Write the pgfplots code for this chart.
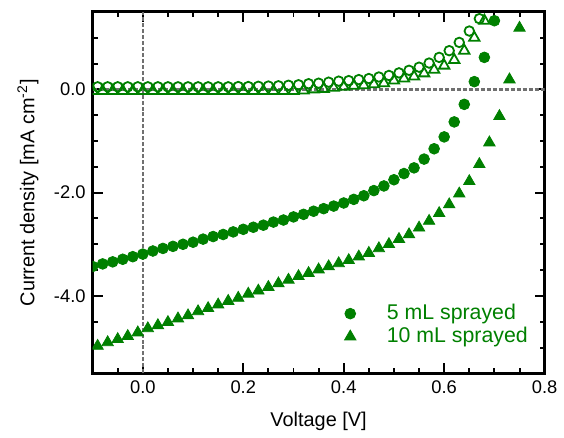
\documentclass[border=0pt]{standalone}
\usepackage{fontspec}
\setmainfont{Liberation Sans}
\usepackage{pgfplots}
\pgfplotsset{compat=1.18}
\definecolor{sprayed}{HTML}{008000}
\definecolor{zeroline}{HTML}{707070}

\begin{document}
\begin{tikzpicture}
\begin{axis}[
    scale only axis, width=227pt, height=181.5pt,
    xmin=-0.1, xmax=0.8, ymin=-5.5, ymax=1.5,
    xtick={0,0.2,0.4,0.6,0.8}, ytick={-4,-2,0},
    minor xtick={-0.05,0.05,0.1,0.15,0.25,0.3,0.35,0.45,0.5,0.55,0.65,0.7,0.75},
    minor ytick={-5,-4.5,-3.5,-3,-2.5,-1.5,-1,-0.5,0.5,1},
    tick align=inside, major tick length=5pt, minor tick length=2.5pt,
    axis line style={line width=1.5pt},
    every tick/.style={black, line width=1pt},
    /pgf/number format/assume math mode=true,
    xticklabel style={/pgf/number format/.cd, fixed, fixed zerofill, precision=1},
    yticklabel style={/pgf/number format/.cd, fixed, fixed zerofill, precision=1},
    tick label style={font=\fontsize{9.2}{11}\selectfont},
    xlabel={Voltage [V]},
    ylabel={Current density [mA cm\textsuperscript{-2}]},
    label style={font=\fontsize{10.7}{12}\selectfont},
    every axis x label/.style={at={(axis description cs:0.5,-0.1322)}, anchor=center},
    every axis y label/.style={at={(axis description cs:-0.1432,0.5)}, rotate=90, anchor=center},
    clip marker paths=true,
    legend cell align=left,
    legend style={draw=none, fill=none, at={(axis cs:0.389,-4.08)}, anchor=north west,
        font=\fontsize{10.7}{10.7}\selectfont, text=sprayed,
        nodes={inner sep=0pt}, row sep=2.3pt},
]
% zero lines
\addplot[forget plot, zeroline, line width=1.2pt, dash pattern=on 2pt off 1pt] coordinates {(0,-5.5) (0,1.5)};
\addplot[forget plot, zeroline, line width=1.2pt, dash pattern=on 2pt off 1pt] coordinates {(-0.1,0) (0.8,0)};

% dark, 5 mL
\addplot[forget plot, only marks, mark=o, mark size=2.4pt, sprayed, line width=0.9pt] coordinates {
(-0.09,0.05) (-0.07,0.05) (-0.05,0.05) (-0.03,0.05) (-0.01,0.05) (0.01,0.05) (0.03,0.05)
(0.05,0.05) (0.07,0.05) (0.09,0.05) (0.11,0.05) (0.13,0.05) (0.15,0.05) (0.17,0.05)
(0.19,0.055) (0.21,0.055) (0.23,0.06) (0.25,0.065) (0.27,0.07) (0.29,0.08) (0.31,0.09)
(0.33,0.11) (0.35,0.12) (0.37,0.14) (0.39,0.16) (0.41,0.17) (0.43,0.19) (0.45,0.21)
(0.47,0.24) (0.49,0.27) (0.51,0.32) (0.53,0.37) (0.55,0.43) (0.57,0.51) (0.59,0.62)
(0.61,0.75) (0.63,0.91) (0.65,1.13) (0.67,1.37) (0.69,1.65)};

% dark, 10 mL
\addplot[forget plot, only marks, mark=triangle, mark size=3pt, sprayed, line width=0.9pt] coordinates {
(-0.1,-0.03) (-0.08,-0.03) (-0.06,-0.03) (-0.04,-0.03) (-0.02,-0.03) (0,-0.03) (0.02,-0.03)
(0.04,-0.03) (0.06,-0.03) (0.08,-0.03) (0.1,-0.03) (0.12,-0.03) (0.14,-0.03) (0.16,-0.03)
(0.18,-0.03) (0.2,-0.03) (0.22,-0.03) (0.24,-0.03) (0.26,-0.03) (0.28,-0.03) (0.3,-0.03)
(0.32,-0.02) (0.34,0.0) (0.36,0.01) (0.38,0.03) (0.4,0.05) (0.42,0.07) (0.44,0.08)
(0.46,0.1) (0.48,0.12) (0.5,0.17) (0.52,0.21) (0.54,0.25) (0.56,0.31) (0.58,0.38)
(0.6,0.46) (0.62,0.57) (0.64,0.75) (0.66,1.0) (0.68,1.33) (0.7,1.7)};

% light, 5 mL
\addplot[only marks, mark=*, mark size=2.7pt, sprayed] coordinates {
(-0.1,-3.43) (-0.08,-3.38) (-0.06,-3.34) (-0.04,-3.29) (-0.02,-3.24) (0,-3.19) (0.02,-3.13)
(0.04,-3.08) (0.06,-3.04) (0.08,-3.0) (0.1,-2.96) (0.12,-2.9) (0.14,-2.85) (0.16,-2.81)
(0.18,-2.76) (0.2,-2.71) (0.22,-2.67) (0.24,-2.63) (0.26,-2.57) (0.28,-2.53) (0.3,-2.47)
(0.32,-2.42) (0.34,-2.36) (0.36,-2.31) (0.38,-2.26) (0.4,-2.2) (0.42,-2.13) (0.44,-2.06)
(0.46,-1.96) (0.48,-1.87) (0.5,-1.75) (0.52,-1.63) (0.54,-1.52) (0.56,-1.35) (0.58,-1.15)
(0.6,-0.92) (0.62,-0.63) (0.64,-0.29) (0.66,0.15) (0.68,0.62) (0.7,1.33)};
\addlegendentry{\hspace*{15.5pt}5 mL sprayed}

% light, 10 mL
\addplot[only marks, mark=triangle*, mark size=3.3pt, sprayed] coordinates {
(-0.09,-4.97) (-0.07,-4.9) (-0.05,-4.84) (-0.03,-4.78) (-0.01,-4.71) (0.01,-4.63) (0.03,-4.57)
(0.05,-4.51) (0.07,-4.44) (0.09,-4.38) (0.11,-4.3) (0.13,-4.24) (0.15,-4.17) (0.17,-4.1)
(0.19,-4.04) (0.21,-3.96) (0.23,-3.9) (0.25,-3.83) (0.27,-3.76) (0.29,-3.69) (0.31,-3.62)
(0.33,-3.56) (0.35,-3.49) (0.37,-3.43) (0.39,-3.37) (0.41,-3.31) (0.43,-3.24) (0.45,-3.17)
(0.47,-3.08) (0.49,-3.0) (0.51,-2.9) (0.53,-2.81) (0.55,-2.68) (0.57,-2.55) (0.59,-2.4)
(0.61,-2.23) (0.63,-2.02) (0.65,-1.78) (0.67,-1.45) (0.69,-1.03) (0.71,-0.52) (0.73,0.19)
(0.75,1.19)};
\addlegendentry{\hspace*{15.5pt}10 mL sprayed}
\end{axis}
\path ([shift={(-46.5pt,-29.5pt)}]current axis.south west) rectangle ([shift={(8.5pt,6pt)}]current axis.north east);
\end{tikzpicture}
\end{document}
